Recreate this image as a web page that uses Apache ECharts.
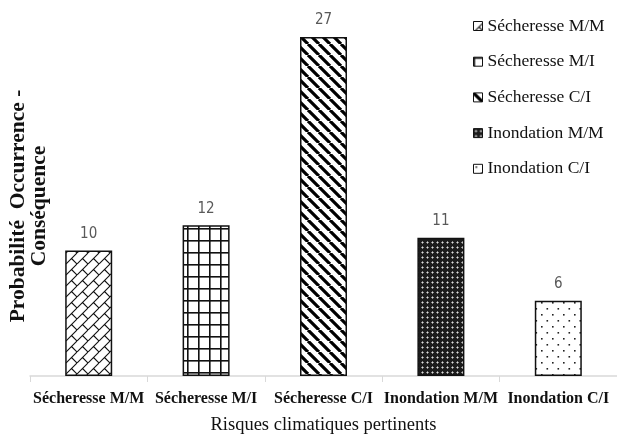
<!DOCTYPE html>
<html>
<head>
<meta charset="utf-8">
<script src="https://cdn.jsdelivr.net/npm/echarts@6/dist/echarts.min.js"></script>
<style>html,body{margin:0;padding:0;background:#fff}#c{width:617px;height:442px}</style>
</head>
<body>
<div id="c"></div>
<script>
const categories = ['Sécheresse M/M', 'Sécheresse M/I', 'Sécheresse C/I', 'Inondation M/M', 'Inondation C/I'];
const values = [10, 12, 27, 11, 6];
const xAxisTitle = 'Risques climatiques pertinents';
const yAxisTitle = 'Probabilité  Occurrence -\nConséquence';

function tile(w, h, draw) {
  const c = document.createElement('canvas');
  c.width = w; c.height = h;
  const g = c.getContext('2d');
  g.fillStyle = '#fff'; g.fillRect(0, 0, w, h);
  draw(g, w, h);
  return { image: c, repeat: 'repeat' };
}
const patterns = [
  // diagonal brick
  tile(11, 11, (g, w, h) => {
    g.strokeStyle = '#111'; g.lineWidth = 1.1;
    g.beginPath();
    for (const k of [-w, 0, w]) { g.moveTo(k, h); g.lineTo(k + w, 0); }
    g.moveTo(w / 2, h / 2); g.lineTo(w, h);
    g.moveTo(-w / 2, h / 2); g.lineTo(0, h);
    g.moveTo(w / 2, -h / 2); g.lineTo(w, 0);
    g.stroke();
  }),
  // grid
  tile(11, 12, (g, w, h) => {
    g.fillStyle = '#111';
    g.fillRect(0, 0, 1.6, h);
    g.fillRect(0, 0, w, 1.6);
  }),
  // wide downward diagonal
  tile(11, 11, (g, w, h) => {
    g.strokeStyle = '#000'; g.lineWidth = 3.2;
    g.beginPath();
    for (const k of [-w, 0, w]) { g.moveTo(k, 0); g.lineTo(k + w, h); }
    g.stroke();
  }),
  // dark dense
  tile(5, 5, (g, w, h) => {
    g.fillStyle = '#1c1c1c'; g.fillRect(0, 0, w, h);
    g.fillStyle = '#8a8a8a'; g.fillRect(1, 2, 3, 1); g.fillRect(2, 1, 1, 3);
    g.fillStyle = '#dddddd'; g.fillRect(2, 2, 1, 1);
  }),
  // sparse dots
  tile(11, 12, (g, w, h) => {
    g.fillStyle = '#222';
    g.fillRect(2, 2, 1.6, 1.6);
    g.fillRect(7.5, 8, 1.6, 1.6);
  })
];

const series = categories.map((name, i) => ({
  name: name,
  type: 'bar',
  stack: 'all',
  barWidth: 47,
  data: categories.map((c, j) => (j === i ? values[i] : '-')),
  itemStyle: { color: patterns[i], borderColor: '#111', borderWidth: 1.5 },
  label: {
    show: true, position: 'top', distance: 9,
    color: '#595959', fontSize: 15,
    fontFamily: "'Liberation Sans Narrow', 'DejaVu Sans Condensed', Roboto, sans-serif"
  }
}));

const chart = echarts.init(document.getElementById('c'));
chart.setOption({
  animation: false,
  backgroundColor: '#fff',
  grid: { left: 30, width: 590, top: 24.4, bottom: 66 },
  legend: {
    orient: 'vertical', left: 468, top: 12,
    icon: 'rect', itemWidth: 9, itemHeight: 9, itemGap: 17.7,
    data: categories,
    itemStyle: { borderWidth: 1 },
    textStyle: { fontFamily: "'Liberation Serif', 'Times New Roman', serif", fontSize: 17.5, lineHeight: 18, color: '#111' }
  },
  xAxis: {
    type: 'category', data: categories,
    axisLine: { lineStyle: { color: '#d9d9d9', width: 1.5 } },
    axisTick: { show: true, length: 6, lineStyle: { color: '#d9d9d9' } },
    axisLabel: {
      interval: 0, margin: 15, color: '#111', fontSize: 16, fontWeight: 'bold',
      fontFamily: "'Liberation Serif', 'Times New Roman', serif"
    },
    name: xAxisTitle, nameLocation: 'middle', nameGap: 40,
    nameTextStyle: { fontFamily: "'Liberation Serif', 'Times New Roman', serif", fontSize: 18.5, color: '#111' }
  },
  yAxis: {
    type: 'value', min: 0, max: 28,
    axisLine: { show: false }, axisTick: { show: false },
    axisLabel: { show: false }, splitLine: { show: false }
  },
  graphic: [{
    type: 'text', x: 29, y: 206, rotation: Math.PI / 2,
    style: {
      text: yAxisTitle, align: 'center', verticalAlign: 'middle',
      font: "bold 21.5px 'Liberation Serif', 'Times New Roman', serif",
      lineHeight: 21, fill: '#111'
    }
  }],
  series: series
});
</script>
</body>
</html>
